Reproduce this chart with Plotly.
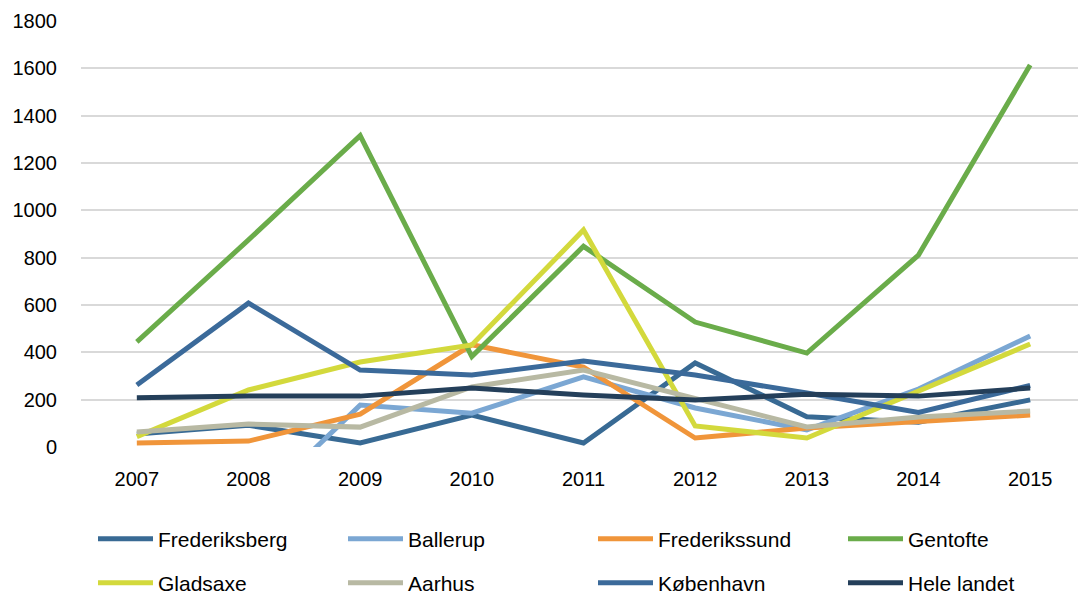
import plotly.graph_objects as go

years = ["2007", "2008", "2009", "2010", "2011", "2012", "2013", "2014", "2015"]

frederiksberg = [55, 92, 17, 135, 17, 355, 128, 105, 199]
ballerup = [None, -275, 177, 143, 296, 165, 72, 245, 469]
frederikssund = [17, 25, 139, 432, 338, 38, 80, 106, 135]
gentofte = [444, 875, 1316, 382, 848, 528, 397, 811, 1614]
gladsaxe = [44, 241, 359, 431, 917, 89, 38, 235, 435]
aarhus = [63, 97, 84, 254, 325, 206, 85, 127, 152]
koebenhavn = [262, 608, 325, 304, 363, 304, 228, 146, 260]
hele_landet = [208, 215, 215, 249, 220, 199, 223, 215, 249]

series = [
    ("Frederiksberg", frederiksberg, "#386a94", "legend"),
    ("Ballerup", ballerup, "#7ba7d3", "legend"),
    ("Frederikssund", frederikssund, "#f0953a", "legend"),
    ("Gentofte", gentofte, "#6aac4a", "legend"),
    ("Gladsaxe", gladsaxe, "#d3d93c", "legend2"),
    ("Aarhus", aarhus, "#b8b9a3", "legend2"),
    ("København", koebenhavn, "#3b6a9a", "legend2"),
    ("Hele landet", hele_landet, "#243f5a", "legend2"),
]

y_ticks = [0, 200, 400, 600, 800, 1000, 1200, 1400, 1600, 1800]

fig = go.Figure()
for name, vals, color, lg in series:
    fig.add_trace(go.Scatter(
        x=years, y=vals, name=name, mode="lines",
        line=dict(color=color, width=5),
        legend=lg,
    ))

font_family = "Liberation Sans, Arial, sans-serif"

# the page body has an 8px margin, so the figure is drawn 8px in from the corner
W, H = 1078, 588

legend_common = dict(
    orientation="h",
    xref="container", yref="container",
    xanchor="left", yanchor="middle",
    entrywidth=180, entrywidthmode="pixels",
    itemwidth=55,
    font=dict(family=font_family, size=21, color="#000000"),
    bgcolor="rgba(0,0,0,0)",
    traceorder="normal",
)

fig.update_layout(
    width=W, height=H,
    margin=dict(l=73, r=0, t=13, b=149, autoexpand=False),
    paper_bgcolor="white", plot_bgcolor="white",
    font=dict(family=font_family, size=20, color="#000000"),
    showlegend=True,
    legend=dict(x=85 / W, y=1 - 531 / H, **legend_common),
    legend2=dict(x=85 / W, y=1 - 575 / H, **legend_common),
    xaxis=dict(
        type="category", range=[-0.5, 8.5],
        showgrid=False, showline=False, zeroline=False,
        ticks="outside", ticklen=14, tickcolor="white",
        tickfont=dict(family=font_family, size=20, color="#000000"),
    ),
    yaxis=dict(
        range=[0, 1800], tickvals=y_ticks,
        showgrid=True, gridcolor="#d9d9d9", gridwidth=2,
        zeroline=False, showline=False,
        ticks="outside", ticklen=19, tickcolor="white",
        tickfont=dict(family=font_family, size=20, color="#000000"),
    ),
)

fig.write_html("out.html")
